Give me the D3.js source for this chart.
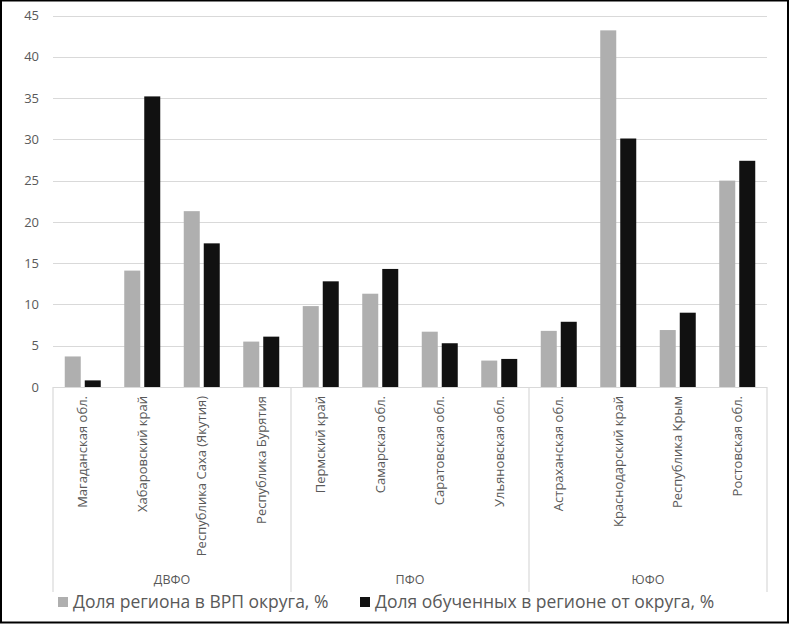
<!DOCTYPE html>
<html><head><meta charset="utf-8">
<script src="https://cdn.jsdelivr.net/npm/d3@7"></script>
<style>body{margin:0;background:#fff}svg{display:block}</style>
</head><body>
<script>
const categories = ["Магаданская обл.","Хабаровский край","Республика Саха (Якутия)","Республика Бурятия","Пермский край","Самарская обл.","Саратовская обл.","Ульяновская обл.","Астраханская обл.","Краснодарский край","Республика Крым","Ростовская обл."];
const groups = ["ДВФО","ПФО","ЮФО"];
const groupSizes = [4,4,4];
const seriesNames = ["Доля региона в ВРП округа, %","Доля обученных в регионе от округа, %"];
const seriesGRP = [3.7,14.1,21.3,5.5,9.8,11.3,6.7,3.2,6.8,43.2,6.9,25.0];
const seriesTrained = [0.8,35.2,17.4,6.1,12.8,14.3,5.3,3.4,7.9,30.1,9.0,27.4];
const yTicks = [0,5,10,15,20,25,30,35,40,45];

const W=791,H=626;
const L=53,R=767,T=15.5,B=387;
const FONT='"Open Sans", sans-serif';
const TXT='#595959', GRID='#d9d9d9';
const colors=['#afafaf','#111111'];

const svg=d3.select('body').append('svg').attr('width',W).attr('height',H);
svg.append('rect').attr('x',1).attr('y',0.5).attr('width',787).attr('height',622).attr('fill','#fff').attr('stroke','#000').attr('stroke-width',2);

const y=d3.scaleLinear().domain([0,45]).range([B,T]);
const x0=d3.scaleBand().domain(categories).range([L,R]).padding(0);
const x1=d3.scaleBand().domain(seriesNames).range([0,x0.bandwidth()]).paddingInner(0.2).paddingOuter(0.5875);

// gridlines
svg.append('g').selectAll('line').data(yTicks.filter(d=>d>0)).join('line')
  .attr('x1',L).attr('x2',R).attr('y1',d=>Math.round(y(d))+0.5).attr('y2',d=>Math.round(y(d))+0.5)
  .attr('stroke',GRID).attr('stroke-width',1.2);

// y axis labels
const yAxis=d3.axisLeft(y).tickValues(yTicks).tickSize(0).tickPadding(0);
const ga=svg.append('g').attr('transform',`translate(39,0)`).call(yAxis);
ga.select('.domain').remove();
ga.selectAll('text').attr('font-family',FONT).attr('font-size',13).attr('fill',TXT);

// bars
const data=[seriesGRP,seriesTrained];
seriesNames.forEach((s,si)=>{
  svg.append('g').selectAll('rect').data(categories).join('rect')
    .attr('x',c=>x0(c)+x1(s)).attr('width',x1.bandwidth())
    .attr('y',(c,i)=>y(data[si][i])).attr('height',(c,i)=>B-y(data[si][i]))
    .attr('fill',colors[si]);
});

// category axis
svg.append('line').attr('x1',L).attr('x2',R).attr('y1',B+0.5).attr('y2',B+0.5).attr('stroke',GRID).attr('stroke-width',1.2);
let idx=0; const bounds=[0];
groupSizes.forEach(n=>{idx+=n;bounds.push(idx);});
svg.append('g').selectAll('line').data(bounds).join('line')
  .attr('x1',i=>i<categories.length?x0(categories[i]):R).attr('x2',i=>i<categories.length?x0(categories[i]):R)
  .attr('y1',B).attr('y2',592).attr('stroke',GRID).attr('stroke-width',1.2);

svg.append('g').selectAll('text').data(categories).join('text')
  .attr('transform',c=>`translate(${x0(c)+x0.bandwidth()/2+4.5},396) rotate(-90)`)
  .attr('text-anchor','end').attr('font-family',FONT).attr('font-size',13).attr('fill',TXT).text(c=>c);

svg.append('g').selectAll('text').data(groups).join('text')
  .attr('x',(g,i)=>{const a=x0(categories[bounds[i]]);const b=bounds[i+1]<categories.length?x0(categories[bounds[i+1]]):R;return (a+b)/2;})
  .attr('y',584).attr('text-anchor','middle').attr('font-family',FONT).attr('font-size',12.5).attr('fill',TXT).text(g=>g);

// legend
const legX=[58,360];
const lg=svg.append('g');
seriesNames.forEach((s,i)=>{
  lg.append('rect').attr('x',legX[i]).attr('y',597).attr('width',10).attr('height',10).attr('fill',colors[i]);
  lg.append('text').attr('x',legX[i]+15).attr('y',608).attr('font-family',FONT).attr('font-size',17.5).attr('fill',TXT).text(s);
});
</script>
</body></html>
